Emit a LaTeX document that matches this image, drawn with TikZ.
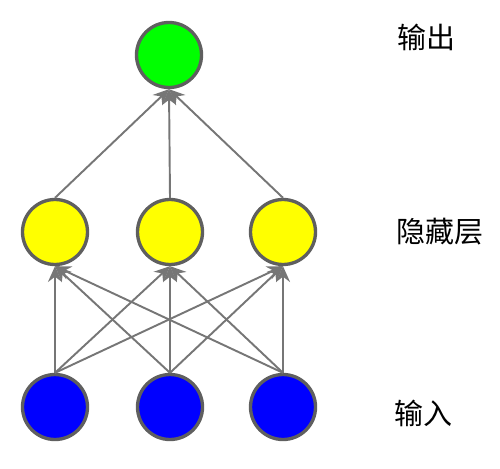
\documentclass[tikz,border=0pt]{standalone}
\usepackage{fontspec}
\newfontfamily\cjk{Noto Sans CJK SC}
\usepackage{xcolor}
\usetikzlibrary{arrows.meta}
\definecolor{randgrau}{RGB}{95,95,95}
\definecolor{liniengrau}{RGB}{118,118,118}
\tikzset{
  neuron/.style={circle, draw=randgrau, line width=1.9pt, minimum size=1.3cm, inner sep=0pt},
  verbindung/.style={draw=liniengrau, line width=1.1pt, -{Stealth[length=9pt,width=8pt,inset=3pt]}},
  schicht/.style={anchor=west, inner sep=0pt, font=\cjk\fontsize{16.5}{20}\selectfont}
}

\begin{document}
\begin{tikzpicture}
\useasboundingbox (0cm,0cm) rectangle (10cm,-9.36cm);
\node[neuron, fill={rgb,255:red,0;green,255;blue,0}] (o1) at (3.38cm,-1.1cm) {};
\node[neuron, fill={rgb,255:red,255;green,255;blue,0}] (h1) at (1.1cm,-4.64cm) {};
\node[neuron, fill={rgb,255:red,255;green,255;blue,0}] (h2) at (3.4cm,-4.64cm) {};
\node[neuron, fill={rgb,255:red,255;green,255;blue,0}] (h3) at (5.66cm,-4.64cm) {};
\node[neuron, fill={rgb,255:red,0;green,0;blue,255}] (i1) at (1.1cm,-8.14cm) {};
\node[neuron, fill={rgb,255:red,0;green,0;blue,255}] (i2) at (3.4cm,-8.14cm) {};
\node[neuron, fill={rgb,255:red,0;green,0;blue,255}] (i3) at (5.66cm,-8.14cm) {};
\node[schicht] (l1) at (7.94cm,-0.74cm) {输出};
\node[schicht] (l2) at (7.92cm,-4.64cm) {隐藏层};
\node[schicht] (l3) at (7.88cm,-8.26cm) {输入};
\draw[verbindung] (h1.north) -- (o1.south);
\draw[verbindung] (h2.north) -- (o1.south);
\draw[verbindung] (h3.north) -- (o1.south);
\draw[verbindung] (i1.north) -- (h1.south);
\draw[verbindung] (i1.north) -- (h2.south);
\draw[verbindung] (i1.north) -- (h3.south);
\draw[verbindung] (i2.north) -- (h1.south);
\draw[verbindung] (i2.north) -- (h2.south);
\draw[verbindung] (i2.north) -- (h3.south);
\draw[verbindung] (i3.north) -- (h1.south);
\draw[verbindung] (i3.north) -- (h2.south);
\draw[verbindung] (i3.north) -- (h3.south);
\end{tikzpicture}
\end{document}
